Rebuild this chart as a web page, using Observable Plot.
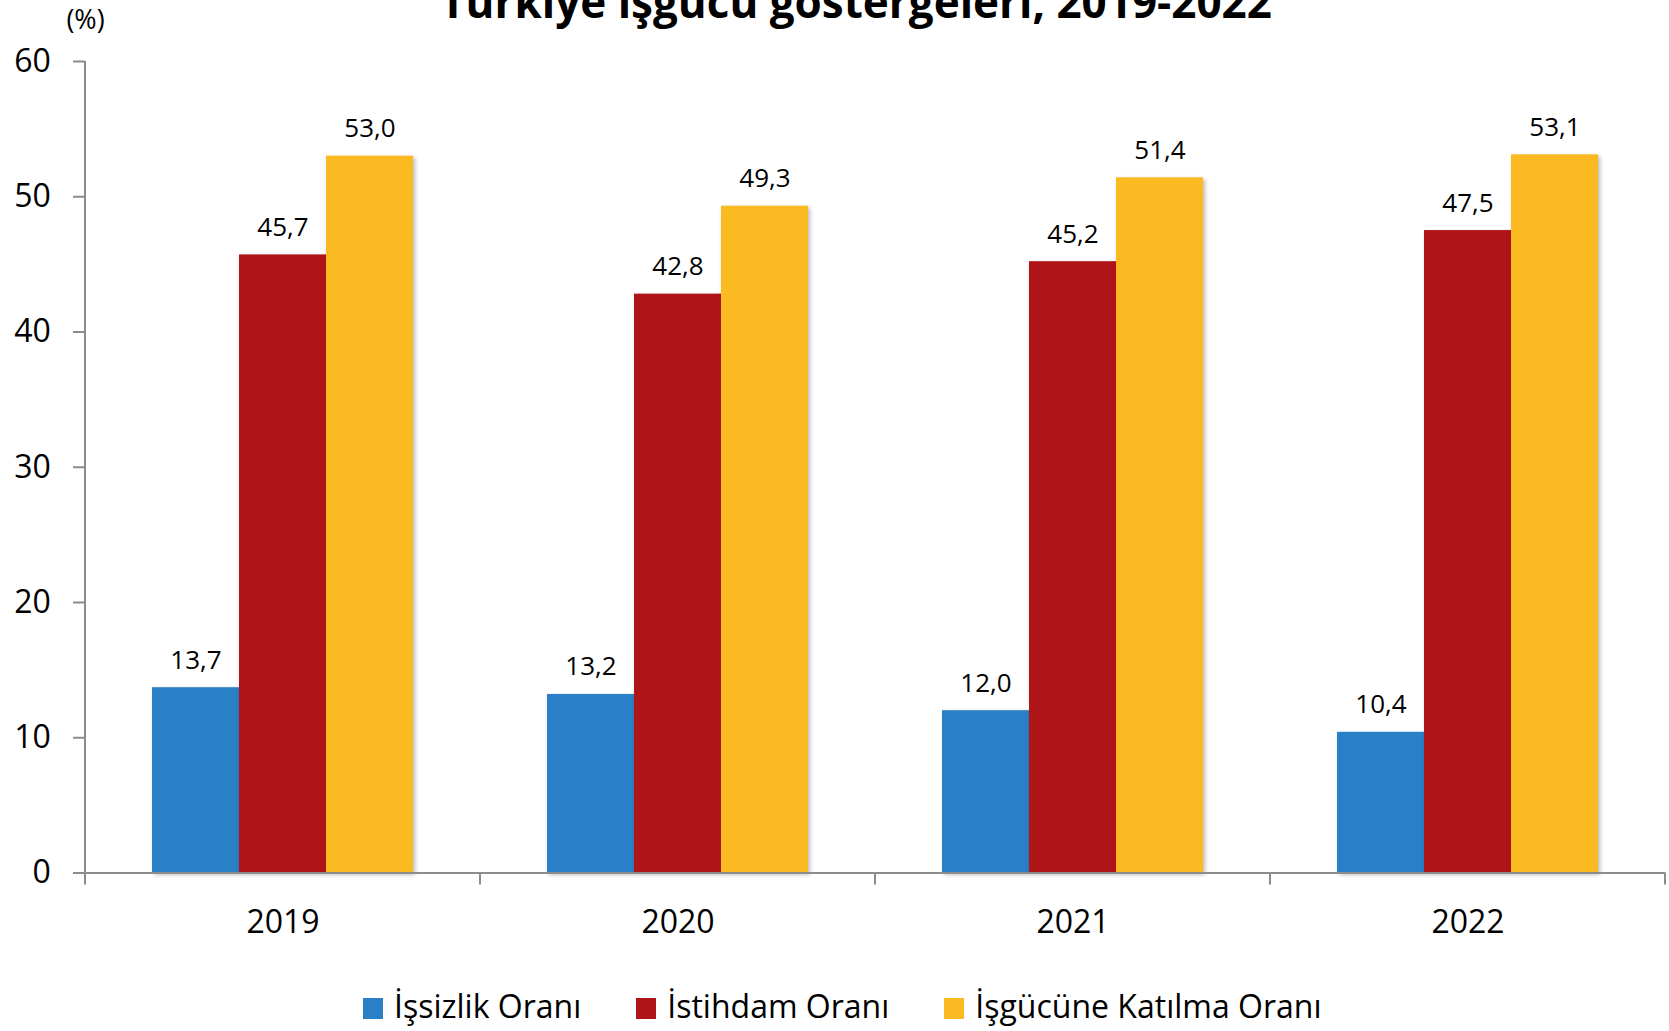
<!DOCTYPE html>
<html>
<head>
<meta charset="utf-8">
<script src="https://cdn.jsdelivr.net/npm/d3@7"></script>
<script src="https://cdn.jsdelivr.net/npm/@observablehq/plot@0.6"></script>
<style>
  html, body { margin: 0; padding: 0; background: #fff; }
  #wrap { position: relative; width: 1669px; height: 1031px; overflow: hidden; font-family: 'Open Sans', sans-serif; }
  #title { position: absolute; top: -21px; left: 856px; transform: translateX(-50%); white-space: nowrap;
           font-size: 44px; font-weight: 700; line-height: 1; color: #000; }
  #chart { position: absolute; top: 0; left: 0; }
  #legend { position: absolute; left: 363px; top: 989.6px; display: flex; align-items: flex-start;
            font-size: 32px; line-height: 1; color: #000; }
  #legend .item { display: flex; align-items: flex-start; margin-right: 55px; }
  #legend .sw { width: 20px; height: 21px; margin-top: 8.4px; margin-right: 11px; }
  svg g[aria-label="bar"] rect { filter: drop-shadow(2px 2px 2px rgba(0,0,0,0.28)); }
</style>
</head>
<body>
<div id="wrap">
  <div id="chart"></div>
  <div id="title"></div>
  <div id="legend"></div>
</div>
<script>
const titleText = "Türkiye işgücü göstergeleri, 2019-2022";
const yLabel = "(%)";
const years = ["2019", "2020", "2021", "2022"];
const series = ["İşsizlik Oranı", "İstihdam Oranı", "İşgücüne Katılma Oranı"];
const issizlik = [13.7, 13.2, 12.0, 10.4];
const istihdam = [45.7, 42.8, 45.2, 47.5];
const katilma = [53.0, 49.3, 51.4, 53.1];
const colors = ["#2A80C6", "#AF1518", "#FBBA22"];
const yTicks = [0, 10, 20, 30, 40, 50, 60];

const valuesBySeries = [issizlik, istihdam, katilma];
const data = [];
years.forEach((yr, i) => {
  series.forEach((s, j) => data.push({year: yr, series: s, value: valuesBySeries[j][i]}));
});
const fmt = v => d3.format(".1f")(v).replace(".", ",");
const gray = "#8c8c8c";

const chart = Plot.plot({
  width: 1669,
  height: 960,
  marginTop: 61,
  marginLeft: 84,
  marginRight: 3,
  marginBottom: 87.5,
  style: {fontFamily: "'Open Sans', sans-serif", fontSize: "26px", color: "#000", background: "transparent", overflow: "visible"},
  fx: {domain: years, padding: 0, label: null},
  x: {domain: series, paddingInner: 0, paddingOuter: 0.756, axis: null},
  y: {domain: [0, 60], label: null},
  color: {domain: series, range: colors},
  marks: [
    Plot.barY(data, {fx: "year", x: "series", y: "value", fill: "series"}),
    Plot.ruleY([0], {stroke: gray, strokeWidth: 2}),
    Plot.axisY({ticks: yTicks, tickSize: 12, tickPadding: 22.7, fontSize: 32, stroke: gray, strokeWidth: 2, fill: "#000", label: null}),
    Plot.axisFx({anchor: "bottom", tickSize: 0, tickPadding: 37.5, fontSize: 32, fill: "#000", label: null}),
    Plot.text(data, {fx: "year", x: "series", y: "value", text: d => fmt(d.value), lineAnchor: "bottom", dy: -19, fontSize: 26, fill: "#000"}),
    Plot.text([yLabel], {fx: [years[0]], text: d => d, frameAnchor: "top-left", textAnchor: "middle", lineAnchor: "bottom", dy: -32.6, fontSize: 27, fill: "#000"})
  ]
});
document.getElementById("chart").appendChild(chart);

// y-axis line and category boundary ticks, placed from the library's own scales
const fx = chart.scale("fx");
const ys = chart.scale("y");
const y0 = ys.apply(0);
const yTop = ys.apply(yTicks[yTicks.length - 1]);
const xLeft = fx.apply(years[0]);
const edges = years.map(d => fx.apply(d)).concat([fx.apply(years[years.length - 1]) + fx.bandwidth]);
const g = d3.select(chart).append("g").attr("aria-label", "axis lines");
g.append("line")
  .attr("x1", xLeft).attr("x2", xLeft).attr("y1", yTop).attr("y2", y0)
  .attr("stroke", gray).attr("stroke-width", 2);
g.selectAll("line.edge").data(edges).join("line").attr("class", "edge")
  .attr("x1", d => d).attr("x2", d => d)
  .attr("y1", y0).attr("y2", y0 + 12)
  .attr("stroke", gray).attr("stroke-width", 2);

document.getElementById("title").textContent = titleText;
const legend = d3.select("#legend");
series.forEach((s, i) => {
  const it = legend.append("div").attr("class", "item");
  it.append("div").attr("class", "sw").style("background", colors[i]);
  it.append("span").text(s);
});
</script>
</body>
</html>
